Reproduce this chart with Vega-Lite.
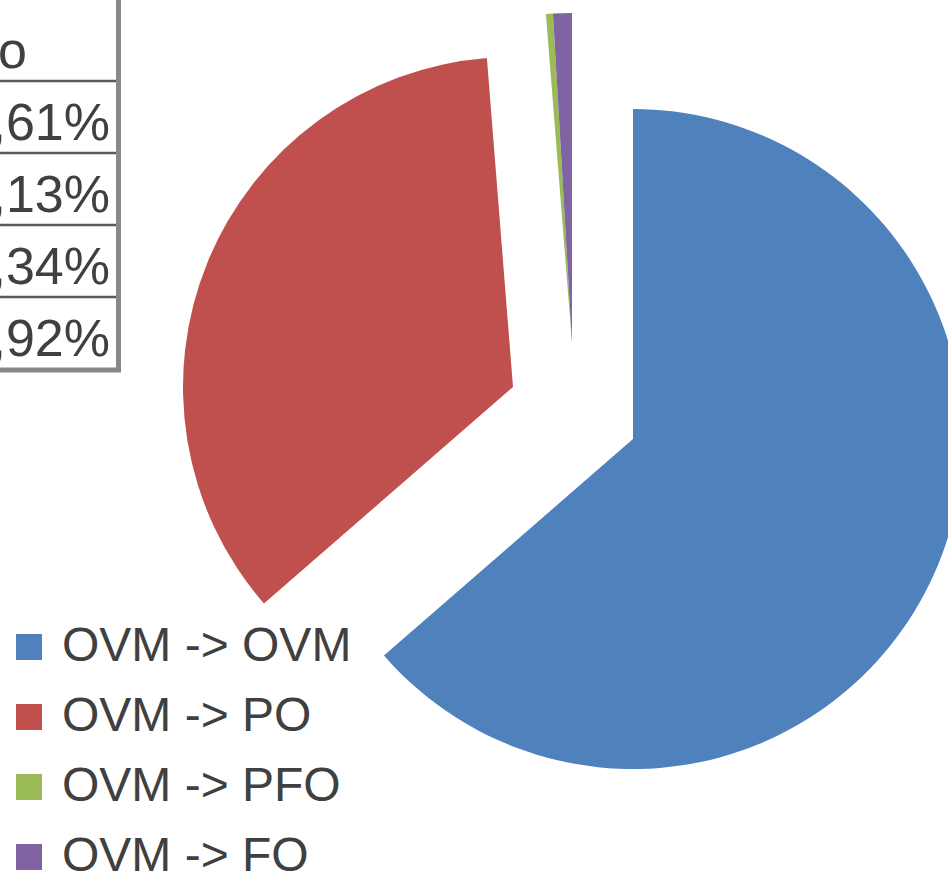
{
  "$schema": "https://vega.github.io/schema/vega-lite/v6.json",
  "width": 948,
  "height": 872,
  "padding": 0,
  "autosize": {"type": "none"},
  "background": "white",
  "config": {
    "view": {"stroke": null},
    "font": "Liberation Sans",
    "locale": {"number": {"decimal": ",", "thousands": "\u00a0", "grouping": [3], "currency": ["", " Kč"]}}
  },
  "datasets": {
    "d": [
      {"cat": "OVM -> OVM", "f": 0.6361, "k": 1},
      {"cat": "OVM -> PO", "f": 0.3513, "k": 2},
      {"cat": "OVM -> PFO", "f": 0.0034, "k": 3},
      {"cat": "OVM -> FO", "f": 0.0092, "k": 4}
    ],
    "h": [{"t": "Procento", "k": 0}]
  },
  "layer": [
    {
      "data": {"name": "d"},
      "encoding": {
        "theta": {"field": "f", "type": "quantitative", "stack": true},
        "order": {"field": "k", "type": "quantitative"},
        "color": {
          "field": "cat",
          "type": "nominal",
          "scale": {
            "domain": ["OVM -> OVM", "OVM -> PO", "OVM -> PFO", "OVM -> FO"],
            "range": ["#4F81BD", "#C0504D", "#9BBB59", "#8064A2"]
          },
          "legend": {
            "orient": "none",
            "legendX": 5,
            "legendY": 623,
            "title": null,
            "symbolType": "square",
            "symbolSize": 676,
            "symbolStrokeWidth": 0,
            "labelFontSize": 48,
            "labelFont": "Liberation Sans",
            "labelColor": "#404040",
            "labelOffset": 9,
            "labelLimit": 0,
            "rowPadding": 22,
            "padding": 0
          }
        }
      },
      "layer": [
        {
          "mark": {"type": "arc", "x": 633, "y": 439, "radius": 330, "stroke": null},
          "encoding": {
            "fillOpacity": {"condition": {"test": "datum.cat === 'OVM -> OVM'", "value": 1}, "value": 0}
          }
        },
        {
          "mark": {"type": "arc", "x": 513, "y": 387, "radius": 330, "stroke": null},
          "encoding": {
            "fillOpacity": {"condition": {"test": "datum.cat === 'OVM -> PO'", "value": 1}, "value": 0}
          }
        },
        {
          "mark": {"type": "arc", "x": 572, "y": 343, "radius": 330, "stroke": null},
          "encoding": {
            "fillOpacity": {"condition": {"test": "datum.cat === 'OVM -> PFO' || datum.cat === 'OVM -> FO'", "value": 1}, "value": 0}
          }
        }
      ]
    },
    {
      "data": {"name": "d"},
      "mark": {"type": "text", "align": "right", "baseline": "alphabetic", "fontSize": 52, "color": "#404040", "font": "Liberation Sans"},
      "encoding": {
        "x": {"value": 110},
        "y": {"field": "k", "type": "quantitative", "scale": {"domain": [0, 4], "range": [68, 356], "zero": false, "nice": false}, "axis": null},
        "text": {"field": "f", "type": "quantitative", "format": ".2%"}
      }
    },
    {
      "data": {"name": "h"},
      "mark": {"type": "text", "align": "right", "baseline": "alphabetic", "fontSize": 52, "color": "#404040", "font": "Liberation Sans"},
      "encoding": {
        "x": {"value": 27},
        "y": {"field": "k", "type": "quantitative", "axis": null},
        "text": {"field": "t", "type": "nominal"}
      }
    },
    {
      "data": {"name": "h"},
      "mark": {"type": "rule", "color": "#595959", "strokeWidth": 2.5, "yOffset": 13},
      "encoding": {
        "x": {"value": -10},
        "x2": {"value": 117},
        "y": {"field": "k", "type": "quantitative", "axis": null}
      }
    },
    {
      "data": {"name": "d"},
      "transform": [{"filter": "datum.k < 4"}],
      "mark": {"type": "rule", "color": "#595959", "strokeWidth": 2.5, "yOffset": 13},
      "encoding": {
        "x": {"value": -10},
        "x2": {"value": 117},
        "y": {"field": "k", "type": "quantitative", "axis": null}
      }
    },
    {
      "data": {"name": "d"},
      "transform": [{"filter": "datum.k == 4"}],
      "mark": {"type": "rule", "color": "#888888", "strokeWidth": 5, "yOffset": 14},
      "encoding": {
        "x": {"value": -10},
        "x2": {"value": 121},
        "y": {"field": "k", "type": "quantitative", "axis": null}
      }
    },
    {
      "data": {"name": "h"},
      "mark": {"type": "rule", "color": "#888888", "strokeWidth": 5},
      "encoding": {
        "x": {"value": 118.5},
        "y": {"value": -5},
        "y2": {"value": 372}
      }
    }
  ]
}
